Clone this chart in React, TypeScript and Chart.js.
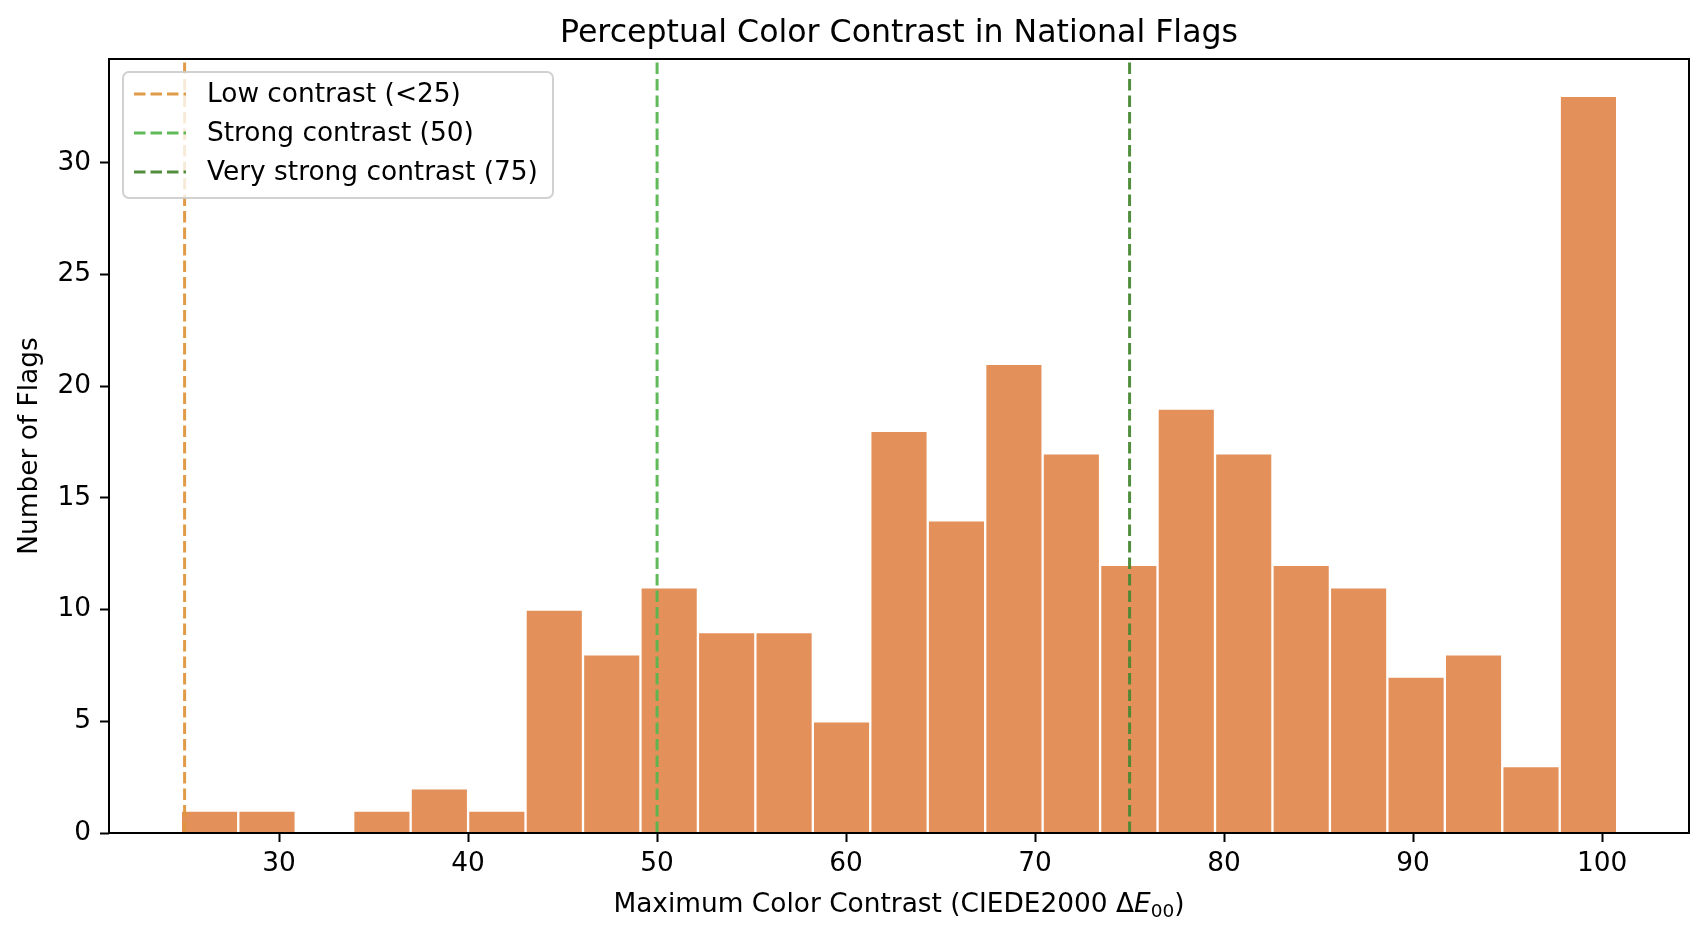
import React, { useEffect, useRef } from 'react';
import { Chart, registerables } from 'chart.js';

Chart.register(...registerables);

// ---- data ----
const BIN_EDGES = [
  24.8, 27.84, 30.88, 33.92, 36.96, 40.0, 43.04, 46.08, 49.12, 52.16, 55.2, 58.24, 61.28,
  64.32, 67.36, 70.4, 73.44, 76.48, 79.52, 82.56, 85.6, 88.64, 91.68, 94.72, 97.76, 100.8,
];
const COUNTS = [1, 1, 0, 1, 2, 1, 10, 8, 11, 9, 9, 5, 18, 14, 21, 17, 12, 19, 17, 12, 11, 7, 8, 3, 33];
const X_TICKS = [30, 40, 50, 60, 70, 80, 90, 100];
const Y_TICKS = [0, 5, 10, 15, 20, 25, 30];
const REF_VALUES = [25, 50, 75];
const REF_LABELS = ['Low contrast (<25)', 'Strong contrast (50)', 'Very strong contrast (75)'];
const REF_COLORS = ['rgba(222,150,62,0.95)', 'rgba(88,182,80,0.95)', 'rgba(72,136,52,0.95)'];
const X_MIN = 21.0;
const X_MAX = 104.6;
const Y_MIN = 0;
const Y_MAX = 34.65;
const TITLE = 'Perceptual Color Contrast in National Flags';
const Y_LABEL = 'Number of Flags';
const X_LABEL_MAIN = 'Maximum Color Contrast (CIEDE2000 \u0394';
const X_LABEL_ITALIC = 'E';
const X_LABEL_SUB = '00';
const X_LABEL_END = ')';

const BAR_COLOR = '#E3905A';
const FONT = '"DejaVu Sans", sans-serif';
const DASH = [11.5, 5];

const decoPlugin = {
  id: 'deco',
  afterDraw(chart: any) {
    const { ctx, chartArea: ca } = chart;
    const cx = (ca.left + ca.right) / 2;
    const cy = (ca.top + ca.bottom) / 2;
    ctx.save();

    // frame (spines)
    ctx.strokeStyle = '#000';
    ctx.lineWidth = 2;
    ctx.setLineDash([]);
    ctx.strokeRect(ca.left, ca.top, ca.right - ca.left, ca.bottom - ca.top);

    // legend
    const lx = 123, ly = 72, lw = 430, lh = 126;
    ctx.beginPath();
    (ctx as any).roundRect(lx, ly, lw, lh, 6);
    ctx.fillStyle = 'rgba(255,255,255,0.8)';
    ctx.fill();
    ctx.strokeStyle = 'rgba(204,204,204,0.9)';
    ctx.lineWidth = 2;
    ctx.stroke();
    const rows = [94, 133, 172];
    ctx.font = `26.4px ${FONT}`;
    ctx.textAlign = 'left';
    ctx.textBaseline = 'middle';
    REF_LABELS.forEach((lab, i) => {
      ctx.beginPath();
      ctx.setLineDash(DASH);
      ctx.strokeStyle = REF_COLORS[i];
      ctx.lineWidth = 3;
      ctx.moveTo(134, rows[i]);
      ctx.lineTo(186, rows[i]);
      ctx.stroke();
      ctx.setLineDash([]);
      ctx.fillStyle = '#000';
      ctx.fillText(lab, 207, rows[i] + 1);
    });

    // title
    ctx.fillStyle = '#000';
    ctx.font = `31.6px ${FONT}`;
    ctx.textAlign = 'center';
    ctx.textBaseline = 'alphabetic';
    ctx.fillText(TITLE, cx, 42);

    // x label with italic E and subscript
    const fMain = `26.4px ${FONT}`;
    const fIt = `italic 26.4px ${FONT}`;
    const fSub = `18.5px ${FONT}`;
    ctx.textAlign = 'left';
    ctx.font = fMain;
    const w1 = ctx.measureText(X_LABEL_MAIN).width;
    const w4 = ctx.measureText(X_LABEL_END).width;
    ctx.font = fIt;
    const w2 = ctx.measureText(X_LABEL_ITALIC).width;
    ctx.font = fSub;
    const w3 = ctx.measureText(X_LABEL_SUB).width;
    const total = w1 + w2 + w3 + w4;
    let x = cx - total / 2;
    const by = 912;
    ctx.font = fMain;
    ctx.fillText(X_LABEL_MAIN, x, by);
    x += w1;
    ctx.font = fIt;
    ctx.fillText(X_LABEL_ITALIC, x, by);
    x += w2;
    ctx.font = fSub;
    ctx.fillText(X_LABEL_SUB, x, by + 5);
    x += w3;
    ctx.font = fMain;
    ctx.fillText(X_LABEL_END, x, by);

    // y label
    ctx.translate(30, cy);
    ctx.rotate(-Math.PI / 2);
    ctx.textAlign = 'center';
    ctx.textBaseline = 'middle';
    ctx.font = fMain;
    ctx.fillText(Y_LABEL, 0, 0);

    ctx.restore();
  },
};

export default function App() {
  const ref = useRef<HTMLCanvasElement | null>(null);

  useEffect(() => {
    if (!ref.current) return;
    const barData = COUNTS.map((c, i) => ({ x: (BIN_EDGES[i] + BIN_EDGES[i + 1]) / 2, y: c }));
    const lineSets = REF_VALUES.map((v, i) => ({
      type: 'line' as const,
      label: REF_LABELS[i],
      data: [
        { x: v, y: Y_MIN },
        { x: v, y: Y_MAX },
      ],
      borderColor: REF_COLORS[i],
      borderWidth: 3,
      borderDash: DASH,
      pointRadius: 0,
      fill: false,
      order: 1,
    }));

    const chart = new Chart(ref.current, {
      type: 'bar',
      data: {
        datasets: [
          {
            type: 'bar' as const,
            label: 'Flags',
            data: barData,
            backgroundColor: BAR_COLOR,
            borderColor: 'rgba(255,255,255,0.9)',
            borderWidth: 1.5,
            borderSkipped: 'bottom',
            barPercentage: 1,
            categoryPercentage: 1,
            order: 2,
          } as any,
          ...lineSets,
        ],
      },
      options: {
        responsive: false,
        animation: false,
        devicePixelRatio: 1,
        layout: { padding: { left: 0, right: 19, top: 59, bottom: 0 } },
        plugins: {
          legend: { display: false },
          tooltip: { enabled: false },
          title: { display: false },
        },
        scales: {
          x: {
            type: 'linear',
            min: X_MIN,
            max: X_MAX,
            offset: false,
            afterFit: (s: any) => {
              s.height = 104;
            },
            afterBuildTicks: (s: any) => {
              s.ticks = X_TICKS.map((v) => ({ value: v }));
            },
            grid: {
              offset: false,
              drawOnChartArea: false,
              drawTicks: true,
              tickLength: 9,
              tickColor: '#000',
              tickWidth: 2,
            },
            border: { display: false },
            ticks: {
              color: '#000',
              padding: 6,
              maxRotation: 0,
              autoSkip: false,
              font: { family: '"DejaVu Sans"', size: 26.4 },
            },
          },
          y: {
            type: 'linear',
            min: Y_MIN,
            max: Y_MAX,
            afterFit: (s: any) => {
              s.width = 109;
            },
            afterBuildTicks: (s: any) => {
              s.ticks = Y_TICKS.map((v) => ({ value: v }));
            },
            grid: {
              drawOnChartArea: false,
              drawTicks: true,
              tickLength: 9,
              tickColor: '#000',
              tickWidth: 2,
            },
            border: { display: false },
            ticks: {
              color: '#000',
              padding: 9,
              autoSkip: false,
              font: { family: '"DejaVu Sans"', size: 26.4 },
            },
          },
        },
      },
      plugins: [decoPlugin],
    });
    return () => chart.destroy();
  }, []);

  return (
    <div style={{ position: 'fixed', left: 0, top: 0, width: 1708, height: 937, background: '#fff' }}>
      <canvas ref={ref} width={1708} height={937} style={{ display: 'block' }} />
    </div>
  );
}
